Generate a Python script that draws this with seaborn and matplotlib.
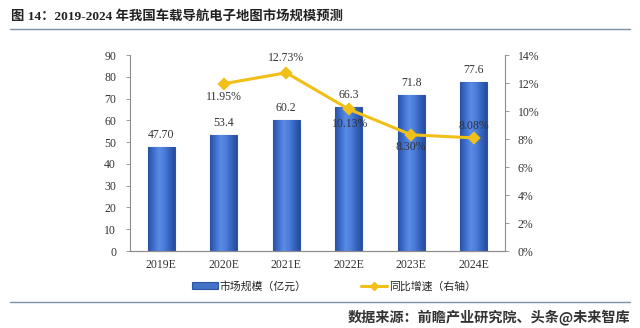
import matplotlib
matplotlib.use("Agg")
import matplotlib.pyplot as plt
import seaborn as sns
import pandas as pd
import numpy as np
from matplotlib.lines import Line2D
from matplotlib.patches import Patch
from matplotlib.colors import LinearSegmentedColormap

categories = ["2019E", "2020E", "2021E", "2022E", "2023E", "2024E"]
market_size = [47.70, 53.4, 60.2, 66.3, 71.8, 77.6]
size_labels = ["47.70", "53.4", "60.2", "66.3", "71.8", "77.6"]
growth_years = ["2020E", "2021E", "2022E", "2023E", "2024E"]
growth = [11.95, 12.73, 10.13, 8.30, 8.08]
left_ticks = [0, 10, 20, 30, 40, 50, 60, 70, 80, 90]
right_ticks = [0, 2, 4, 6, 8, 10, 12, 14]

sns.set_theme(style="white")
plt.rcParams["font.family"] = ["Liberation Serif", "Noto Sans CJK SC", "DejaVu Sans"]

BAR = "#4472C4"
BAR_EDGE = "#2B56A8"
LINE = "#F0C018"
TXT = "#333333"
AX = "#8C8C8C"

fig = plt.figure(figsize=(6.4, 3.28), dpi=100)
W, H = 640, 328
ax = fig.add_axes([130 / W, 1 - 251 / H, (505 - 130) / W, (251 - 55) / H])

df = pd.DataFrame({"year": categories, "size": market_size})
sns.barplot(data=df, x="year", y="size", order=categories, color=BAR,
            saturation=1, width=0.43, edgecolor=BAR_EDGE, linewidth=0.8, ax=ax)
ax.set_xlim(-0.5, len(categories) - 0.5)
ax.set_ylim(0, 90)
ax.set_yticks(left_ticks)
ax.set_xlabel("")
ax.set_ylabel("")

# gradient shading clipped to each seaborn bar
cmap = LinearSegmentedColormap.from_list(
    "bargrad", ["#2A51A6", "#3E6FCC", "#5A8BE6", "#4B7DD9", "#3563BE", "#264C9E"])
grad = np.linspace(0, 1, 64).reshape(1, -1)
for p in list(ax.patches):
    x0, y0 = p.get_x(), p.get_y()
    w, h = p.get_width(), p.get_height()
    im = ax.imshow(grad, cmap=cmap, aspect="auto", extent=[x0, x0 + w, y0, y0 + h],
                   zorder=p.get_zorder() + 0.1, interpolation="bilinear")
    im.set_clip_path(p)
ax.set_xlim(-0.5, len(categories) - 0.5)
ax.set_ylim(0, 90)

for i, (v, lab) in enumerate(zip(market_size, size_labels)):
    ax.text(i, v + 2.6, lab, ha="center", va="bottom", fontsize=8.5,
            color=TXT, family="Liberation Serif", zorder=5)

ax2 = ax.twinx()
gdf = pd.DataFrame({"year": growth_years, "g": growth})
sns.pointplot(data=gdf, x="year", y="g", order=categories, color=LINE,
              marker="D", markersize=5, linewidth=2.2, ax=ax2)
ax2.set_xlim(-0.5, len(categories) - 0.5)
ax2.set_ylim(0, 14)
ax2.set_yticks(right_ticks)
ax2.set_yticklabels([f"{t}%" for t in right_ticks])
ax2.set_ylabel("")
ax2.set_xlabel("")

offsets = {"2020E": (0, -0.55, "top"), "2021E": (0, 0.6, "bottom"),
           "2022E": (0.02, -1.05, "center"), "2023E": (0, -0.45, "top"),
           "2024E": (0, 0.45, "bottom")}
for y, g in zip(growth_years, growth):
    i = categories.index(y)
    dx, dy, va = offsets[y]
    ax2.text(i + dx, g + dy, f"{g:.2f}%", ha="center", va=va, fontsize=8.5,
             color=TXT, family="Liberation Serif")

for a in (ax, ax2):
    a.spines["top"].set_visible(False)
    for s in ["left", "right", "bottom"]:
        a.spines[s].set_color(AX)
        a.spines[s].set_linewidth(0.8)
ax.spines["right"].set_visible(False)
ax2.spines["left"].set_visible(False)

ax.tick_params(axis="y", length=3, width=0.6, color=AX, labelsize=8.5,
               labelcolor=TXT, pad=7, direction="out")
ax2.tick_params(axis="y", length=3, width=0.6, color=AX, labelsize=8.5,
                labelcolor=TXT, pad=6, direction="out")
ax.set_xticks(range(len(categories)))
ax.set_xticklabels(categories)
ax.tick_params(axis="x", length=0, labelsize=8.5, labelcolor=TXT, pad=6)
for lab in ax.get_xticklabels() + ax.get_yticklabels() + ax2.get_yticklabels():
    lab.set_family("Liberation Serif")
ax.set_xticks([i + 0.5 for i in range(len(categories) - 1)], minor=True)
ax.tick_params(axis="x", which="minor", length=3, width=0.6, color=AX, direction="out")

# legend
handles = [Patch(facecolor=BAR, edgecolor=BAR_EDGE, linewidth=0.8),
           Line2D([0], [0], color=LINE, lw=2.2, marker="D", markersize=4.5)]
leg = fig.legend(handles, ["市场规模（亿元）", "同比增速（右轴）"],
                 loc="center", bbox_to_anchor=(334 / W, 1 - 286 / H), ncol=2,
                 frameon=False, columnspacing=5.0, handlelength=2.4,
                 handletextpad=0.2, prop={"family": ["Noto Sans CJK SC"], "size": 7.8})
for t in leg.get_texts():
    t.set_color("#222222")

# title
fig.text(11 / W, 1 - 16 / H, "图 14：2019-2024 年我国车载导航电子地图市场规模预测",
         ha="left", va="center", fontsize=9.6, fontweight="bold",
         family=["Liberation Serif", "Noto Sans CJK SC", "DejaVu Sans"], color="#222222")
fig.add_artist(Line2D([10 / W, 630 / W], [1 - 28.5 / H, 1 - 28.5 / H],
                      color="#7F8FA6", lw=1.0))
fig.add_artist(Line2D([10 / W, 630 / W], [1 - 302 / H, 1 - 302 / H],
                      color="#7F8FA6", lw=1.0))
fig.text(630 / W, 1 - 318 / H, "数据来源：前瞻产业研究院、头条@未来智库",
         ha="right", va="center", fontsize=10.2, fontweight="bold",
         family=["Noto Sans CJK SC", "DejaVu Sans"], color="#333333")

fig.savefig("out.png", dpi=100)
